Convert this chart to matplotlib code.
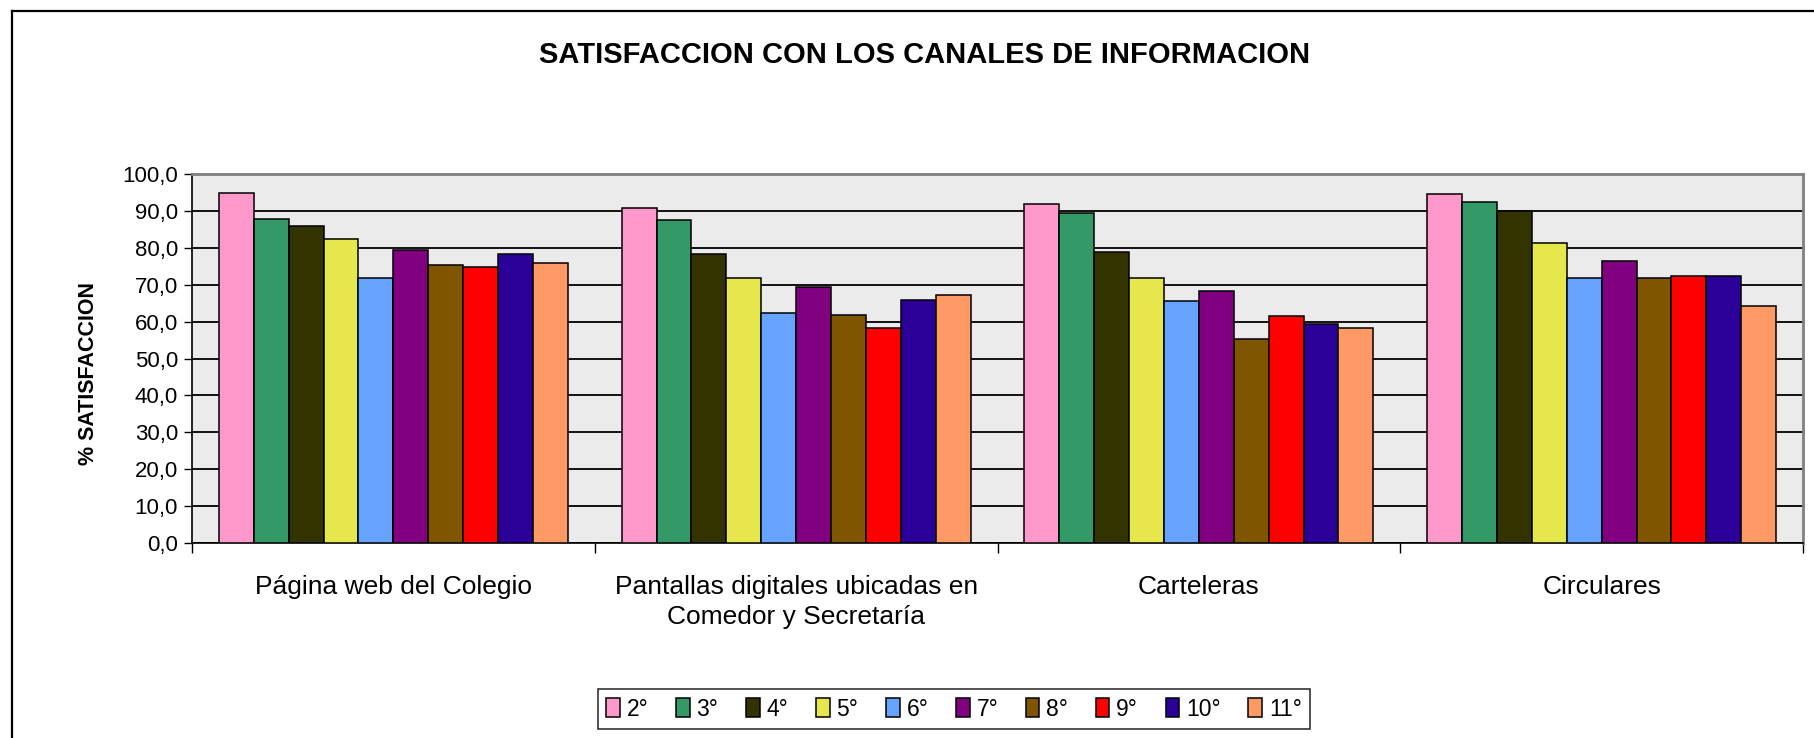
import matplotlib
matplotlib.use("Agg")
import matplotlib.pyplot as plt
from matplotlib.lines import Line2D
import numpy as np

plt.rcParams['font.family'] = ['Liberation Sans', 'DejaVu Sans']

categories = ["Página web del Colegio",
              "Pantallas digitales ubicadas en\nComedor y Secretaría",
              "Carteleras",
              "Circulares"]
grades = ["2°", "3°", "4°", "5°", "6°", "7°", "8°", "9°", "10°", "11°"]

# one list per grade, values for the four channels
v2 = [94.9, 90.8, 92.0, 94.5]
v3 = [87.9, 87.4, 89.4, 92.5]
v4 = [85.9, 78.4, 78.9, 89.9]
v5 = [82.4, 71.9, 71.9, 81.4]
v6 = [71.9, 62.3, 65.7, 71.9]
v7 = [79.4, 69.4, 68.4, 76.5]
v8 = [75.4, 61.8, 55.3, 71.9]
v9 = [74.8, 58.3, 61.4, 72.4]
v10 = [78.4, 65.8, 59.4, 72.4]
v11 = [75.8, 67.2, 58.3, 64.3]
series = [v2, v3, v4, v5, v6, v7, v8, v9, v10, v11]

colors = ["#FF99CC", "#339966", "#333300", "#E6E64D", "#66A3FF",
          "#800080", "#805500", "#FF0000", "#2A0099", "#FF9966"]

W, H = 1814, 738
fig = plt.figure(figsize=(W / 100, H / 100), dpi=100)
ax = fig.add_axes([192 / W, 1 - 543 / H, (1803 - 192) / W, (543 - 174) / H])
ax.set_facecolor("#EBEBEB")

x = np.arange(len(categories))
bw = 0.0866
for j, (vals, c) in enumerate(zip(series, colors)):
    ax.bar(x + (j - 4.5) * bw, vals, width=bw, color=c, edgecolor="black",
           linewidth=1.1, label=grades[j], zorder=3)

ax.set_xlim(-0.5, 3.5)
ax.set_ylim(0, 100)
ax.set_yticks(np.arange(0, 101, 10))
ax.set_yticklabels([f"{v:.1f}".replace(".", ",") for v in range(0, 101, 10)],
                   fontsize=16)
ax.yaxis.grid(True, color="black", linewidth=1.3, zorder=1)
ax.set_axisbelow(True)

# category boundaries as major ticks, names as minor ticks
ax.set_xticks([-0.5, 0.5, 1.5, 2.5, 3.5])
ax.set_xticklabels([])
ax.set_xticks(x, minor=True)
ax.set_xticklabels(categories, minor=True, fontsize=19, linespacing=1.3)
ax.tick_params(axis="x", which="major", direction="out", length=7, width=1)
ax.tick_params(axis="x", which="minor", length=0, pad=23)
ax.tick_params(axis="y", direction="out", length=6, width=1, pad=4)

for s in ["top", "right"]:
    ax.spines[s].set_color("#808080")
    ax.spines[s].set_linewidth(2)
for s in ["left", "bottom"]:
    ax.spines[s].set_color("black")
    ax.spines[s].set_linewidth(1.2)

ax.set_ylabel("% SATISFACCION", fontsize=15.5, fontweight="bold")
ax.yaxis.set_label_coords(-0.058, 0.46)

fig.text(925 / W, 1 - 55 / H, "SATISFACCION CON LOS CANALES DE INFORMACION",
         ha="center", va="center", fontsize=21, fontweight="bold")

leg = fig.legend(loc="center", bbox_to_anchor=(954 / W, 1 - 709 / H), ncol=10,
                 fontsize=16.5, frameon=True, fancybox=False, edgecolor="black",
                 handlelength=0.6, handleheight=0.9, handletextpad=0.3,
                 columnspacing=1.2, borderpad=0.35)
leg.get_frame().set_linewidth(1.2)

# outer border (top and left only visible)
fig.add_artist(Line2D([12 / W, 1], [1 - 11 / H, 1 - 11 / H],
                      transform=fig.transFigure, color="black", linewidth=1.6))
fig.add_artist(Line2D([12 / W, 12 / W], [0, 1 - 11 / H],
                      transform=fig.transFigure, color="black", linewidth=1.6))

fig.savefig("out.png", dpi=100)
